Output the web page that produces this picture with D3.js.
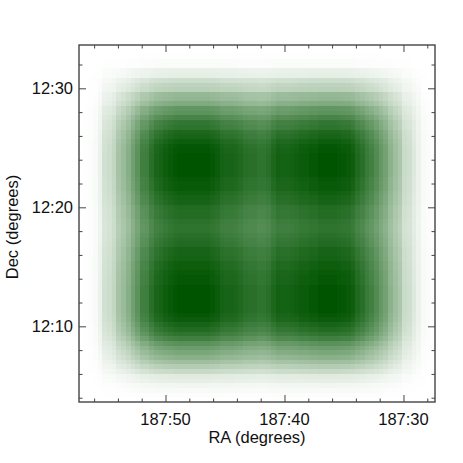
<!DOCTYPE html>
<html>
<head>
<meta charset="utf-8">
<script src="https://d3js.org/d3.v7.min.js"></script>
<style>
  html, body { margin: 0; padding: 0; background: #fff; }
  svg { display: block; }
  text { font-family: "Liberation Sans", sans-serif; fill: #111; }
</style>
</head>
<body>
<svg id="chart" width="463" height="463"></svg>
<script>
// coverage, one value per map column (RA, east to west)
const raProfile = [
  0, .005, .015, .03, .08, .18, .2, .24, .35, .4, .47, .56, .64, .75, .76, .84, .9, .92, .95, .97,
  .99, 1, 1, 1, 1, 1, 1, 1, .98, .96, .92, .91, .91, .9, .88, .85, .84, .84, .82, .82,
  .84, .89, .93, .92, .92, .93, .94, .96, .96, .98, .98, 1, 1, 1, 1, .99, .98, .97, .94, .88,
  .84, .78, .74, .68, .61, .55, .45, .38, .33, .21, .19, .13, .08, .03, .02, .01
];
// same for the map rows (Dec, north to south)
const decProfile = [
  0, .002, .005, .02, .02, .09, .1, .2, .26, .28, .42, .43, .5, .62, .64, .72, .8, .82, .89, .91,
  .95, .98, .99, 1, 1, 1, 1, 1, .98, .97, .97, .94, .92, .91, .87, .86, .86, .83, .82, .82,
  .84, .86, .87, .91, .91, .92, .95, .95, .97, .98, .98, 1, 1, 1, 1, 1, 1, .98, .96, .91,
  .87, .82, .75, .65, .58, .52, .46, .38, .3, .22, .12, .1, .05, .03, .015, .005
];

// ticks in arcminutes
const raMajor = [187 * 60 + 50, 187 * 60 + 40, 187 * 60 + 30];
const decMajor = [12 * 60 + 10, 12 * 60 + 20, 12 * 60 + 30];
const raDomain = [187 * 60 + 57.27, 187 * 60 + 27.35];
const decDomain = [12 * 60 + 3.64, 12 * 60 + 33.64];

const left = 79, right = 435, top_ = 45, bottom = 402;

const svg = d3.select("#chart");

const x = d3.scaleLinear().domain(raDomain).range([left, right]);
const y = d3.scaleLinear().domain(decDomain).range([bottom, top_]);
const xCell = d3.scaleBand().domain(d3.range(raProfile.length)).range([left, right]);
const yCell = d3.scaleBand().domain(d3.range(decProfile.length)).range([top_, bottom]);
const color = d3.scaleLinear().domain([0, 1]).range(["#ffffff", "#005400"]);

// map cells
const cells = [];
decProfile.forEach((d, j) => raProfile.forEach((r, i) => cells.push({ i, j, v: r * d })));
svg.append("g").selectAll("rect").data(cells).join("rect")
  .attr("x", d => xCell(d.i))
  .attr("y", d => yCell(d.j))
  .attr("width", xCell.bandwidth() + .5)
  .attr("height", yCell.bandwidth() + .5)
  .attr("shape-rendering", "crispEdges")
  .attr("fill", d => color(d.v));

function sexa(m) {
  const deg = Math.floor(m / 60);
  return deg + ":" + d3.format("02d")(m - deg * 60);
}

function minors(scale) {
  const [a, b] = d3.extent(scale.domain());
  const out = [];
  for (let m = Math.ceil(a / 2) * 2; m <= b; m += 2) if (m % 10 !== 0) out.push(m);
  return out;
}

const frame = "#444";

function drawAxis(gen, tr, major, minor) {
  const g = svg.append("g").attr("transform", tr);
  g.append("g").call(gen.tickValues(major).tickSize(-7).tickFormat(""));
  g.append("g").call(gen.tickValues(minor).tickSize(-3.5).tickFormat(""));
  g.selectAll(".domain").remove();
  g.selectAll("line").attr("stroke", frame).attr("stroke-width", 1);
}

// d3 ticks point outward for a positive size, the negative size turns them into the plot
drawAxis(d3.axisBottom(x), `translate(0,${bottom})`, raMajor, minors(x));
drawAxis(d3.axisTop(x), `translate(0,${top_})`, raMajor, minors(x));
drawAxis(d3.axisLeft(y), `translate(${left},0)`, decMajor, minors(y));
drawAxis(d3.axisRight(y), `translate(${right},0)`, decMajor, minors(y));

svg.selectAll(null).data(raMajor).join("text")
  .attr("x", d => x(d)).attr("y", 425)
  .attr("text-anchor", "middle").attr("font-size", 16.5)
  .text(sexa);
svg.selectAll(null).data(decMajor).join("text")
  .attr("x", 73).attr("y", d => y(d) + 6)
  .attr("text-anchor", "end").attr("font-size", 16.5)
  .text(sexa);

svg.append("rect")
  .attr("x", left).attr("y", top_)
  .attr("width", right - left).attr("height", bottom - top_)
  .attr("fill", "none").attr("stroke", frame).attr("stroke-width", 1.4);

svg.append("text").attr("x", 257).attr("y", 443)
  .attr("text-anchor", "middle").attr("font-size", 16.5)
  .text("RA (degrees)");
svg.append("text").attr("transform", "translate(18,227) rotate(-90)")
  .attr("text-anchor", "middle").attr("font-size", 16.5)
  .text("Dec (degrees)");
</script>
</body>
</html>
